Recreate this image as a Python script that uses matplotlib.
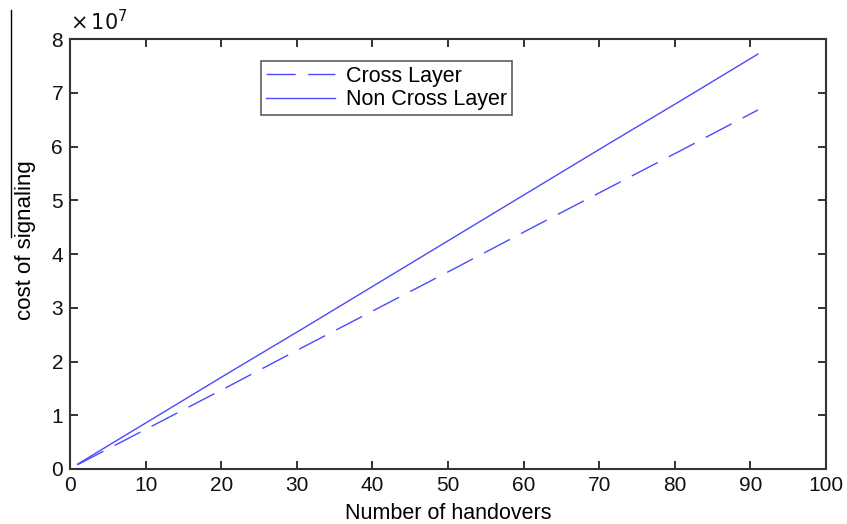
import matplotlib.pyplot as plt
from matplotlib.lines import Line2D

plt.rcParams['font.family'] = ['Liberation Sans', 'DejaVu Sans']

# number of handovers
handovers = [1, 11, 21, 31, 41, 51, 61, 71, 81, 91]
# signaling cost
cross_layer = [0.08e7, 0.81e7, 1.54e7, 2.28e7, 3.01e7, 3.74e7, 4.48e7, 5.21e7, 5.94e7, 6.68e7]
non_cross_layer = [0.09e7, 0.94e7, 1.79e7, 2.63e7, 3.48e7, 4.33e7, 5.18e7, 6.03e7, 6.87e7, 7.72e7]

fig = plt.figure(figsize=(8.47, 5.24), dpi=100)
ax = fig.add_axes([70 / 847, 1 - 469 / 524, 756 / 847, 430 / 524])

line_color = '#4a4aff'
ax.plot(handovers, cross_layer, color=line_color, linewidth=1,
        dashes=(21, 9), label='Cross Layer')
ax.plot(handovers, non_cross_layer, color=line_color, linewidth=1,
        label='Non Cross Layer')

ax.set_xlim(0, 100)
ax.set_ylim(0, 8e7)
ax.set_xticks(range(0, 101, 10))
ax.set_yticks([i * 1e7 for i in range(9)])
ax.set_yticklabels([str(i) for i in range(9)])
ax.tick_params(axis='both', direction='in', length=6, width=1.2,
               top=True, right=True, labelsize=15, pad=5, colors='#111111')
for s in ax.spines.values():
    s.set_linewidth(1.5)
    s.set_color('#333333')

ax.text(0.0, 1.01, r'$\times\,10^{7}$', transform=ax.transAxes,
        fontsize=15, ha='left', va='bottom', color='#111111',
        family='DejaVu Sans')

ax.set_xlabel('Number of handovers', fontsize=15.5)
ax.xaxis.set_label_coords(0.5, -(503 - 469) / 430)
ax.set_ylabel('cost of signaling', fontsize=16)
ax.yaxis.set_label_coords(-(70 - 36) / 756, (469 - 240) / 430)

leg = ax.legend(loc='upper left', bbox_to_anchor=(0.252, 0.95), fontsize=15.5,
                frameon=True, fancybox=False, edgecolor='#333333',
                handlelength=3.2, borderpad=0.25, labelspacing=0.1,
                handletextpad=0.5, borderaxespad=0)
leg.get_frame().set_linewidth(1.2)

fig.add_artist(Line2D([11 / 847, 11 / 847], [1 - 10 / 524, 1 - 237 / 524],
                      color='black', linewidth=1))

fig.savefig('out.png', dpi=100)
